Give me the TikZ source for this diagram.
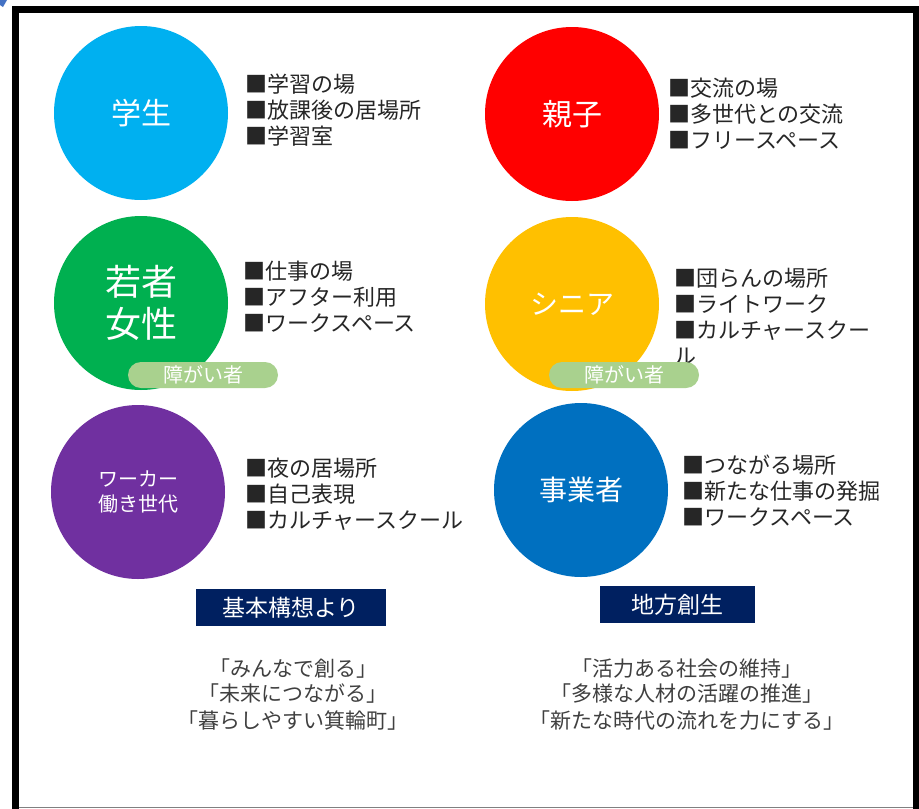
\documentclass[tikz,border=0pt]{standalone}
\usepackage{fontspec}
\newfontfamily\jp{Noto Sans CJK JP}
\definecolor{cStudent}{HTML}{00B0F0}
\definecolor{cParent}{HTML}{FF0000}
\definecolor{cYouth}{HTML}{00B050}
\definecolor{cSenior}{HTML}{FFC000}
\definecolor{cWorker}{HTML}{7030A0}
\definecolor{cBiz}{HTML}{0070C0}
\definecolor{cPill}{HTML}{A9D18E}
\definecolor{cNavy}{HTML}{002060}
\definecolor{cText}{HTML}{262626}
\definecolor{cQuote}{HTML}{404040}
\definecolor{cMark}{HTML}{4472C4}
\tikzset{
  circ/.style={circle, minimum size=174pt, inner sep=0pt, text=white, align=center},
  item/.style={anchor=west, inner sep=0pt, text height=0.85em, text depth=0.15em, yshift=-5pt,
    font=\jp\fontsize{22}{26}\selectfont, text=cText},
  pill/.style={fill=cPill, rounded corners=13pt, minimum width=150pt, minimum height=26pt,
    inner sep=0pt, text=white, font=\jp\fontsize{20}{24}\selectfont},
  navybox/.style={fill=cNavy, text=white, minimum height=37pt, inner sep=0pt,
    font=\jp\fontsize{23}{27}\selectfont},
  quote/.style={inner sep=0pt, text height=0.85em, text depth=0.15em, yshift=-4pt,
    font=\jp\fontsize{21}{26}\selectfont, text=cQuote}
}
\begin{document}
\begin{tikzpicture}[x=1pt,y=-1pt]
\useasboundingbox (0,0) rectangle (919,809);
\fill[white] (0,0) rectangle (919,809);
% frame
\fill[black] (12,6) rectangle (919,12.5);
\fill[black] (12,6) rectangle (19,809);
\fill[black] (913,6) rectangle (919,809);
\draw[gray, line width=1.5pt] (19,807.5) -- (913,807.5);
\fill[cMark] (0,0) -- (7,0) -- (3,7) -- (0,5) -- cycle;

% circles
\node[circ, fill=cStudent, font=\jp\fontsize{30}{34}\selectfont] (c1) at (141,113) {学生};
\node[circ, fill=cParent, font=\jp\fontsize{30}{34}\selectfont] (c2) at (572,114) {親子};
\node[circ, fill=cYouth, font=\jp\fontsize{36}{42}\selectfont] (c3) at (141,303) {若者\\女性};
\node[circ, fill=cSenior, font=\jp\fontsize{28}{32}\selectfont] (c4) at (572,304) {シニア};
\node[circ, fill=cWorker, font=\jp\fontsize{20}{25}\selectfont] (c5) at (138,492) {ワーカー\\働き世代};
\node[circ, fill=cBiz, font=\jp\fontsize{28}{32}\selectfont] (c6) at (581,490) {事業者};

% lists
\node[item] (a1) at (245,84) {■学習の場};
\node[item] (a2) at (245,110) {■放課後の居場所};
\node[item] (a3) at (245,136) {■学習室};

\node[item] (b1) at (668,88) {■交流の場};
\node[item] (b2) at (668,114) {■多世代との交流};
\node[item] (b3) at (668,140) {■フリースペース};

\node[item] (d1) at (243,271) {■仕事の場};
\node[item] (d2) at (243,297) {■アフター利用};
\node[item] (d3) at (243,323) {■ワークスペース};

\node[item] (e1) at (674,278) {■団らんの場所};
\node[item] (e2) at (674,304) {■ライトワーク};
\node[item] (e3) at (674,330) {■カルチャースクー};
\node[item] (e4) at (674,356) {ル};

\node[item] (f1) at (245,468) {■夜の居場所};
\node[item] (f2) at (245,494) {■自己表現};
\node[item] (f3) at (245,520) {■カルチャースクール};

\node[item] (g1) at (682,465) {■つながる場所};
\node[item] (g2) at (682,491) {■新たな仕事の発掘};
\node[item] (g3) at (682,517) {■ワークスペース};

% pills
\node[pill] (p1) at (203,375) {障がい者};
\node[pill] (p2) at (624,375) {障がい者};

% navy boxes
\node[navybox, minimum width=190pt] (h1) at (291,607.5) {基本構想より};
\node[navybox, minimum width=155pt] (h2) at (677.5,604.5) {地方創生};

% quotes
\node[quote] (q1) at (293,669) {「みんなで創る」};
\node[quote] (q2) at (293,694) {「未来につながる」};
\node[quote] (q3) at (293,721) {「暮らしやすい箕輪町」};

\node[quote] (r1) at (687,669) {「活力ある社会の維持」};
\node[quote] (r2) at (687,694) {「多様な人材の活躍の推進」};
\node[quote] (r3) at (687,721) {「新たな時代の流れを力にする」};
\end{tikzpicture}
\end{document}
